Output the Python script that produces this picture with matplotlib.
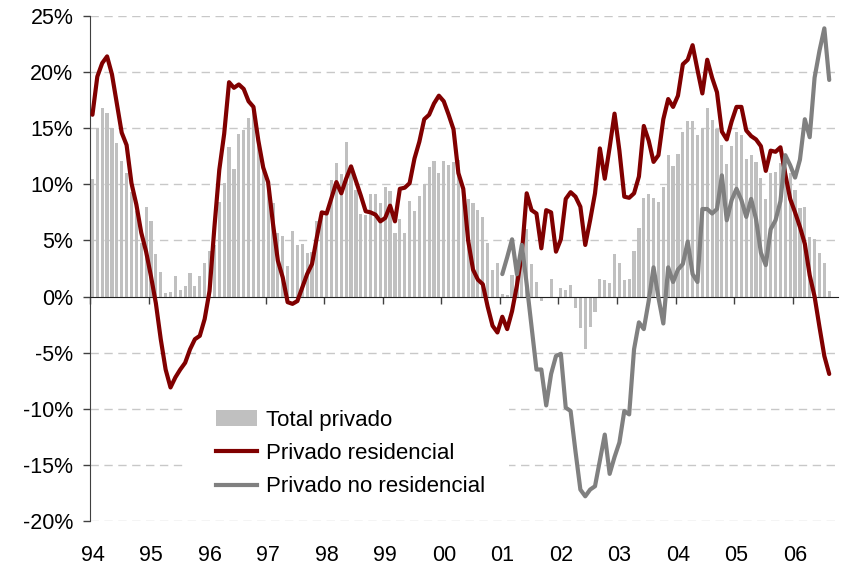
import matplotlib
matplotlib.use("Agg")
import matplotlib.pyplot as plt
import numpy as np
from matplotlib.patches import Rectangle, Patch
from matplotlib.lines import Line2D
from matplotlib.transforms import IdentityTransform

plt.rcParams['font.family'] = ['Liberation Sans', 'DejaVu Sans']

# datos mensuales, ene-94 a ago-06 (% a/a)
years = ['94', '95', '96', '97', '98', '99', '00', '01', '02', '03', '04', '05', '06']

total_privado = [
    10.5, 15.0, 16.8, 16.4, 15.0, 13.7, 12.1, 11.0, 9.3, 7.6, 4.8, 8.0,
    6.7, 3.8, 2.2, 0.3, 0.4, 1.8, 0.6, 0.9, 2.1, 0.9, 1.8, 3.0,
    4.1, 4.6, 8.4, 10.1, 13.3, 11.4, 14.5, 14.8, 15.9, 16.6, 14.0, 11.2,
    10.0, 8.3, 5.7, 5.4, 2.7, 5.8, 4.6, 4.7, 3.9, 4.0, 6.7, 7.0,
    7.5, 10.4, 11.9, 10.9, 13.8, 11.0, 9.5, 7.4, 7.3, 9.1, 9.1, 8.3,
    9.8, 9.4, 5.7, 6.9, 5.7, 8.5, 7.6, 9.0, 10.0, 11.5, 12.1, 11.0,
    12.1, 11.7, 12.0, 12.2, 9.5, 8.7, 8.3, 7.7, 7.1, 4.8, 2.4, 3.0,
    0.2, 0.1, 1.9, 2.8, 4.8, 6.0, 2.9, 1.3, -0.4, 0.0, 1.6, 0.0,
    0.8, 0.6, 1.0, -1.0, -2.8, -4.7, -2.7, -1.4, 1.6, 1.5, 1.2, 3.8,
    3.0, 1.5, 1.6, 4.1, 6.1, 8.8, 9.1, 8.8, 8.4, 9.8, 12.6, 11.6,
    12.7, 14.7, 15.6, 15.6, 14.4, 15.0, 16.8, 15.7, 14.9, 13.5, 11.8, 13.4,
    14.7, 14.4, 12.3, 12.6, 12.0, 10.6, 8.7, 11.0, 11.1, 11.9, 12.5, 11.0,
    9.5, 7.9, 8.0, 5.3, 5.1, 3.9, 3.0, 0.5,
]

privado_residencial = [
    16.2, 19.6, 20.8, 21.4, 19.8, 17.2, 14.6, 13.5, 10.1, 8.2, 5.7, 4.0,
    1.8, -0.6, -3.8, -6.5, -8.1, -7.2, -6.5, -5.9, -4.7, -3.8, -3.5, -2.0,
    0.5, 6.2, 11.3, 14.5, 19.1, 18.6, 18.9, 18.5, 17.4, 16.9, 13.9, 11.5,
    10.2, 6.5, 3.2, 1.7, -0.5, -0.65, -0.4, 0.8, 2.0, 2.9, 5.3, 7.5,
    7.4, 8.8, 10.2, 9.2, 10.5, 11.6, 10.3, 9.0, 7.6, 7.5, 7.3, 6.7,
    7.0, 8.1, 6.7, 9.6, 9.7, 10.1, 12.3, 13.8, 15.8, 16.2, 17.2, 17.9,
    17.4, 16.2, 14.9, 11.0, 9.6, 5.0, 2.4, 1.5, 1.1, -0.9, -2.6, -3.2,
    -1.8, -2.9, -1.3, 1.0, 3.8, 9.2, 7.7, 7.4, 4.3, 7.7, 7.5, 4.0,
    5.1, 8.7, 9.3, 8.9, 8.0, 4.6, 6.8, 9.2, 13.2, 10.5, 13.3, 16.3,
    13.0, 8.9, 8.8, 9.2, 10.7, 15.2, 13.9, 12.0, 12.6, 15.8, 17.6, 16.9,
    17.9, 20.7, 21.1, 22.4, 20.2, 18.1, 21.1, 19.5, 18.2, 14.7, 14.0, 15.6,
    16.9, 16.9, 14.8, 14.3, 14.0, 13.4, 11.2, 13.0, 12.9, 13.3, 10.9, 8.7,
    7.5, 6.2, 4.7, 1.9, 0.0, -2.7, -5.3, -6.9,
]

# la serie no residencial empieza en ene-01
inicio_no_res = 84
privado_no_residencial = [
    2.0, 3.5, 5.1, 2.0, 4.6, 1.1, -2.7, -6.5, -6.5, -9.7, -6.9, -5.3,
    -5.1, -9.9, -10.2, -13.8, -17.2, -17.8, -17.2, -16.9, -14.6, -12.3, -15.8, -14.3,
    -13.0, -10.2, -10.5, -4.7, -2.3, -2.9, -0.4, 2.6, -0.1, -2.4, 2.6, 1.3,
    2.4, 2.9, 4.9, 2.0, 1.3, 7.8, 7.8, 7.4, 7.8, 10.8, 6.8, 8.6,
    9.6, 8.6, 7.1, 8.7, 6.9, 3.9, 2.8, 6.0, 6.8, 8.5, 12.6, 11.7,
    10.6, 12.2, 15.8, 14.2, 19.5, 21.9, 23.9, 19.3,
]

y_ticks = [-20, -15, -10, -5, 0, 5, 10, 15, 20, 25]

GRIS_BARRA = '#c0c0c0'
ROJO = '#800000'
GRIS_LINEA = '#808080'
FS = 15.5

fig = plt.figure(figsize=(8.52, 5.74), dpi=100)
ax = fig.add_axes([90 / 852, 1 - 521 / 574, 748 / 852, 505 / 574])

x = np.arange(len(total_privado))
ax.bar(x, total_privado, width=0.65, color=GRIS_BARRA, zorder=2)
ax.plot(x, privado_residencial, color=ROJO, lw=3, zorder=4,
        solid_joinstyle='round', solid_capstyle='round')
x2 = np.arange(inicio_no_res, inicio_no_res + len(privado_no_residencial))
ax.plot(x2, privado_no_residencial, color=GRIS_LINEA, lw=3, zorder=5,
        solid_joinstyle='round', solid_capstyle='round')

ax.set_xlim(-0.5, 152.8)
ax.set_ylim(-20, 25)

# lineas de division
for v in y_ticks:
    if v != 0:
        ax.axhline(v, color='#c8c8c8', lw=1, dashes=(6, 4), zorder=1)

ax.set_yticks(y_ticks)
ax.set_yticklabels([f'{v}%' for v in y_ticks])
ax.tick_params(axis='y', direction='out', length=5, width=1, color='#404040',
               pad=7, labelsize=FS)

ax.set_xticks([12 * j - 0.5 for j in range(len(years))])
ax.set_xticklabels([])
ax.tick_params(axis='x', direction='out', length=5, width=1, color='#404040')

for s in ['top', 'right']:
    ax.spines[s].set_visible(False)
ax.spines['left'].set_color('#404040')
ax.spines['bottom'].set_color('#202020')
ax.spines['bottom'].set_position(('data', 0))
ax.spines['bottom'].set_zorder(3)

for j, yr in enumerate(years):
    ax.annotate(yr, xy=(12 * j, 0), xycoords=('data', 'axes fraction'),
                xytext=(0, -24.5), textcoords='offset points',
                ha='center', va='center', fontsize=FS)

# fondo blanco de la leyenda
ax.add_patch(Rectangle((185, 574 - 502), 324, 104, transform=IdentityTransform(),
                       facecolor='white', edgecolor='none', zorder=1.5))

handles = [Patch(facecolor=GRIS_BARRA, edgecolor='none'),
           Line2D([], [], color=ROJO, lw=3),
           Line2D([], [], color=GRIS_LINEA, lw=3)]
labels = ['Total privado', 'Privado residencial', 'Privado no residencial']
fig.legend(handles, labels, loc='upper left', bbox_to_anchor=(216 / 852, 1 - 410 / 574),
           frameon=False, fontsize=16, handlelength=1.85, handletextpad=0.4,
           labelspacing=0.55, borderpad=0, borderaxespad=0)

fig.savefig('out.png', dpi=100)
